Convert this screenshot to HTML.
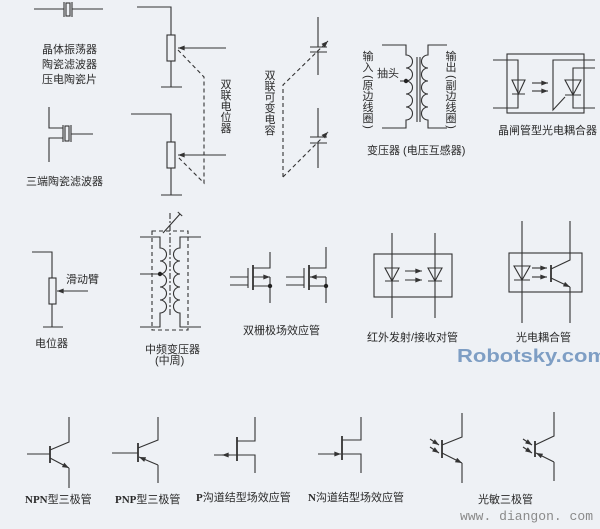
<!DOCTYPE html>
<html><head><meta charset="utf-8"><style>
html,body{margin:0;padding:0;background:#eef1f5;}
svg{display:block;}
text{font-family:"Liberation Sans","Noto Sans CJK SC",sans-serif;font-size:11px;fill:#2a2a2a;}
.v{dominant-baseline:central;text-anchor:middle;}
</style></head><body>
<svg width="600" height="529" viewBox="0 0 600 529" xmlns="http://www.w3.org/2000/svg">
<defs>
<marker id="a" viewBox="0 0 8 6" refX="8" refY="3" markerWidth="7" markerHeight="5" orient="auto" markerUnits="userSpaceOnUse"><path d="M0,0 L8,3 L0,6 z" fill="#333"/></marker>
</defs>
<rect width="600" height="529" fill="#eef1f5"/>
<g stroke="#333" stroke-width="1.1" fill="none">
<!-- crystal -->
<path d="M34 9H64M64 2V17M72 2V17M72 9H103"/>
<rect x="66" y="3" width="4" height="13"/>
<!-- three-terminal filter -->
<path d="M49 107V128H63M49 162V138H63M63 125V142M71 125V142M71 134H93"/>
<rect x="65" y="126" width="4" height="15"/>
<!-- dual pot -->
<path d="M137 7H171V35M171 61V87M161 87H182"/>
<rect x="167" y="35" width="8" height="26"/>
<path d="M226 48H178" marker-end="url(#a)"/>
<path d="M131 114H171V142M171 168V195M161 195H182"/>
<rect x="167" y="142" width="8" height="26"/>
<path d="M226 155H178" marker-end="url(#a)"/>
<path d="M178 50L204 77V183L178 157" stroke-dasharray="4 3"/>
<!-- dual variable capacitor -->
<path d="M318 17V47M310 47H327M310 52H327M318 52V75"/>
<path d="M318 108V137M310 137H327M310 143H327M318 143V168"/>
<path d="M283 177V85L328 41" stroke-dasharray="4 3" marker-end="url(#a)"/>
<path d="M283 177L328 132" stroke-dasharray="4 3" marker-end="url(#a)"/>
<!-- transformer -->
<path d="M382 45H406V55a6.5 6.5 0 0 1 0 13a6.5 6.5 0 0 1 0 13a6.5 6.5 0 0 1 0 13a6.5 6.5 0 0 1 0 13a6.5 6.5 0 0 1 0 13V128H382"/>
<path d="M447 45H428V55a6.5 6.5 0 0 0 0 13a6.5 6.5 0 0 0 0 13a6.5 6.5 0 0 0 0 13a6.5 6.5 0 0 0 0 13a6.5 6.5 0 0 0 0 13V128H447"/>
<path d="M417 57V122M420 57V122M400 81H406"/>
<!-- SCR optocoupler -->
<rect x="507" y="54" width="77" height="59"/>
<path d="M493 60H518V108H493M512 94H525"/>
<path d="M512 80H525L518.5 94Z"/>
<path d="M532 83H548" marker-end="url(#a)"/>
<path d="M532 91H548" marker-end="url(#a)"/>
<path d="M595 60H553V110L565 97M595 68H573V108H595M565 95H581"/>
<path d="M565 80H581L573 95Z"/>
<!-- potentiometer -->
<path d="M32 252H52V278M52 304V327M43 327H63"/>
<rect x="49" y="278" width="7" height="26"/>
<path d="M88 291H57" marker-end="url(#a)"/>
<!-- IF transformer -->
<path d="M140 237H160V248a6.5 6.5 0 0 1 0 13a6.5 6.5 0 0 1 0 13a6.5 6.5 0 0 1 0 13a6.5 6.5 0 0 1 0 13a6.5 6.5 0 0 1 0 13V327H140"/>
<path d="M201 237H180V248a6.5 6.5 0 0 0 0 13a6.5 6.5 0 0 0 0 13a6.5 6.5 0 0 0 0 13a6.5 6.5 0 0 0 0 13a6.5 6.5 0 0 0 0 13V327H201"/>
<path d="M140 274H160"/>
<rect x="152" y="231" width="36" height="99" stroke-dasharray="4 3"/>
<path d="M170 213V315" stroke-dasharray="6 2 2 2"/>
<path d="M163 233L180 214M177.8 212L182.2 216"/>
<!-- dual gate MOSFETs -->
<path d="M230 277H248M230 285H248M248 268V288"/>
<path d="M253 265V290" stroke-width="1.8"/>
<path d="M253 268H270V252M253 286H270V303M270 277V286"/>
<path d="M253 277H270" marker-end="url(#a)"/>
<path d="M286 277H304M286 285H304M304 268V288"/>
<path d="M309 265V290" stroke-width="1.8"/>
<path d="M309 268H326V247M309 286H326V303M326 277V286"/>
<path d="M326 277H310" marker-end="url(#a)"/>
<!-- IR pair -->
<rect x="374" y="254" width="78" height="43"/>
<path d="M392 233V318M435 233V318M385 281H399M428 281H442"/>
<path d="M385 268H399L392 281Z"/>
<path d="M428 268H442L435 281Z"/>
<path d="M405 271H422" marker-end="url(#a)"/>
<path d="M405 280H422" marker-end="url(#a)"/>
<!-- transistor optocoupler -->
<rect x="509" y="253" width="73" height="39"/>
<path d="M522 221V323M514 280H530"/>
<path d="M514 266H530L522 280Z"/>
<path d="M532 268H547" marker-end="url(#a)"/>
<path d="M532 277H547" marker-end="url(#a)"/>
<path d="M551 265V282" stroke-width="1.8"/>
<path d="M551 269L570 260V221M570 287V323"/>
<path d="M551 278L570 287" marker-end="url(#a)"/>
<!-- NPN -->
<path d="M27 454H50M50 450L69 442V417M69 468V488"/>
<path d="M50 446V463" stroke-width="1.8"/>
<path d="M50 458L69 468" marker-end="url(#a)"/>
<!-- PNP -->
<path d="M112 453H138M138 448L158 440V417M158 465V483"/>
<path d="M138 443V462" stroke-width="1.8"/>
<path d="M158 465L139 457" marker-end="url(#a)"/>
<!-- P JFET -->
<path d="M214 455H237M237 441H255V417M237 455H255V473"/>
<path d="M237 437V461" stroke-width="1.8"/>
<path d="M230 455H222" marker-end="url(#a)"/>
<!-- N JFET -->
<path d="M318 454H341" marker-end="url(#a)"/>
<path d="M342 436V460" stroke-width="1.8"/>
<path d="M342 440H361V417M342 454H361V473"/>
<!-- phototransistor 1 -->
<path d="M442 440V458" stroke-width="1.8"/>
<path d="M442 445L462 437V413M462 463V483"/>
<path d="M442 453L462 463" marker-end="url(#a)"/>
<path d="M430 439L439 445" marker-end="url(#a)"/>
<path d="M430 447L439 453" marker-end="url(#a)"/>
<!-- phototransistor 2 -->
<path d="M535 441V457" stroke-width="1.8"/>
<path d="M535 445L554 436V412M554 462V481"/>
<path d="M554 462L536 453" marker-end="url(#a)"/>
<path d="M523 439L532 445" marker-end="url(#a)"/>
<path d="M523 447L532 453" marker-end="url(#a)"/>
</g>
<g fill="#222">
<circle cx="406" cy="81" r="2.2"/>
<circle cx="160" cy="274" r="2.2"/>
<circle cx="270" cy="286" r="2.2"/>
<circle cx="326" cy="286" r="2.2"/>
</g>
<!-- labels -->
<text x="42" y="53">晶体振荡器</text>
<text x="42" y="68">陶瓷滤波器</text>
<text x="42" y="83">压电陶瓷片</text>
<text x="26" y="185">三端陶瓷滤波器</text>
<g class="v">
<text class="v" x="226" y="85">双</text>
<text class="v" x="226" y="96">联</text>
<text class="v" x="226" y="107">电</text>
<text class="v" x="226" y="118">位</text>
<text class="v" x="226" y="129">器</text>
<text class="v" x="270" y="76">双</text>
<text class="v" x="270" y="87">联</text>
<text class="v" x="270" y="98">可</text>
<text class="v" x="270" y="109">变</text>
<text class="v" x="270" y="120">电</text>
<text class="v" x="270" y="131">容</text>
<text class="v" x="368" y="57">输</text>
<text class="v" x="368" y="68">入</text>
<text class="v" x="368" y="77" transform="rotate(90 368 77)">(</text>
<text class="v" x="368" y="86">原</text>
<text class="v" x="368" y="97">边</text>
<text class="v" x="368" y="108">线</text>
<text class="v" x="368" y="119">圈</text>
<text class="v" x="368" y="127" transform="rotate(90 368 127)">)</text>
<text class="v" x="451" y="57">输</text>
<text class="v" x="451" y="68">出</text>
<text class="v" x="451" y="77" transform="rotate(90 451 77)">(</text>
<text class="v" x="451" y="86">副</text>
<text class="v" x="451" y="97">边</text>
<text class="v" x="451" y="108">线</text>
<text class="v" x="451" y="119">圈</text>
<text class="v" x="451" y="127" transform="rotate(90 451 127)">)</text>
</g>
<text x="377" y="77">抽头</text>
<text x="367" y="154">变压器 (电压互感器)</text>
<text x="498" y="134">晶闸管型光电耦合器</text>
<text x="66" y="283">滑动臂</text>
<text x="35" y="347">电位器</text>
<text x="145" y="353">中频变压器</text>
<text x="155" y="364">(中周)</text>
<text x="243" y="334">双栅极场效应管</text>
<text x="367" y="341">红外发射/接收对管</text>
<text x="516" y="341">光电耦合管</text>
<text x="25" y="503"><tspan font-family="Liberation Serif" font-weight="bold">NPN</tspan>型三极管</text>
<text x="115" y="503"><tspan font-family="Liberation Serif" font-weight="bold">PNP</tspan>型三极管</text>
<text x="196" y="501"><tspan font-family="Liberation Serif" font-weight="bold">P</tspan>沟道结型场效应管</text>
<text x="308" y="501"><tspan font-family="Liberation Serif" font-weight="bold">N</tspan>沟道结型场效应管</text>
<text x="478" y="503">光敏三极管</text>
<text x="457" y="362" style="font-size:18px;font-weight:bold;fill:#7e9ec4" textLength="150" lengthAdjust="spacingAndGlyphs">Robotsky.com</text>
<text x="460" y="520" style="font-family:'Liberation Mono',monospace;font-size:13px;fill:#8a8a8a" textLength="133">www. diangon. com</text>
</svg>
</body></html>
